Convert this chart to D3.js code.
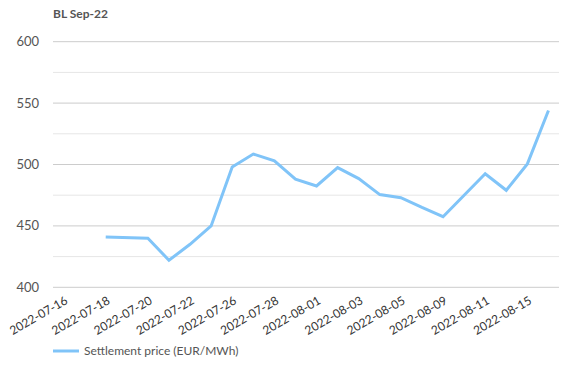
<!DOCTYPE html>
<html><head><meta charset="utf-8">
<script src="https://cdn.jsdelivr.net/npm/d3@7"></script>
<style>body{margin:0;background:#fff;}svg{display:block;font-family:Lato,"Open Sans",sans-serif;}</style>
</head><body>
<svg id="c" width="586" height="389"></svg>
<script>
const title = "BL Sep-22";
const seriesName = "Settlement price (EUR/MWh)";
const categories = ["2022-07-16","2022-07-17","2022-07-18","2022-07-19","2022-07-20","2022-07-21","2022-07-22","2022-07-25","2022-07-26","2022-07-27","2022-07-28","2022-07-29","2022-08-01","2022-08-02","2022-08-03","2022-08-04","2022-08-05","2022-08-08","2022-08-09","2022-08-10","2022-08-11","2022-08-12","2022-08-15","2022-08-16"];
const values = [null,null,441,null,440,422,435,450,498,508.5,503,488,482.5,497.5,488.5,475.5,473,465,457.5,475,492.5,479,500.5,544];
const yTicks = [400,450,500,550,600];
const yMinor = [425,475,525,575];

const svg = d3.select("#c");
const L = 53, R = 559, T = 41.7, B = 287.3;
const x = d3.scalePoint().domain(categories).range([L, R]).padding(0.5);
const y = d3.scaleLinear().domain([400, 600]).range([B, T]);

svg.append("text").attr("x", 53).attr("y", 18).attr("fill", "#555")
  .attr("font-size", 12).attr("font-weight", "bold").text(title);

const g = svg.append("g");
g.selectAll(".minor").data(yMinor).enter().append("line")
  .attr("x1", L).attr("x2", R).attr("y1", d => y(d)).attr("y2", d => y(d))
  .attr("stroke", "#e6e6e6").attr("stroke-width", 1);
g.selectAll(".major").data(yTicks).enter().append("line")
  .attr("x1", L).attr("x2", R).attr("y1", d => y(d)).attr("y2", d => y(d))
  .attr("stroke", "#cccccc").attr("stroke-width", 1);
g.selectAll(".yl").data(yTicks).enter().append("text")
  .attr("x", 39).attr("y", d => y(d)).attr("dy", "0.35em").attr("text-anchor", "end")
  .attr("fill", "#555").attr("font-size", 13).text(d => d);

const labelled = categories.filter((d, i) => i % 2 === 0);
g.selectAll(".xl").data(labelled).enter().append("text")
  .attr("transform", d => `translate(${x(d) + 3},${B + 12}) rotate(-30)`)
  .attr("text-anchor", "end").attr("dy", "0.35em")
  .attr("fill", "#333").attr("font-size", 12).text(d => d);

const pts = categories.map((c, i) => ({c, v: values[i]})).filter(d => d.v !== null);
svg.append("path").datum(pts)
  .attr("fill", "none").attr("stroke", "#80c4f8").attr("stroke-width", 3)
  .attr("stroke-linejoin", "miter")
  .attr("d", d3.line().x(d => x(d.c)).y(d => y(d.v)));

const lg = svg.append("g").attr("transform", "translate(53,351)");
lg.append("line").attr("x1", 0).attr("x2", 26).attr("stroke", "#80c4f8").attr("stroke-width", 3);
lg.append("text").attr("x", 31).attr("dy", "0.35em").attr("fill", "#555").attr("font-size", 12).text(seriesName);
</script>
</body></html>
